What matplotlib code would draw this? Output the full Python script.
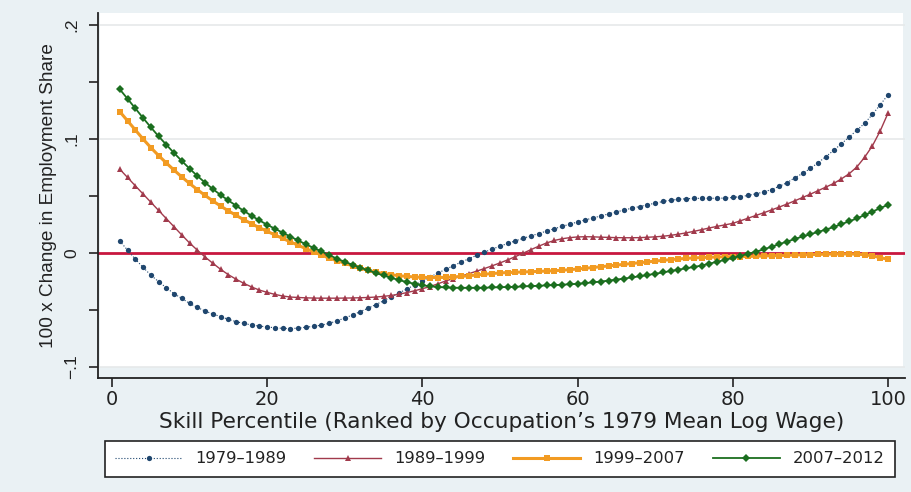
import matplotlib
matplotlib.use("Agg")
import matplotlib.pyplot as plt
from matplotlib.patches import Rectangle

# skill percentile (1..100)
percentile = list(range(1, 101))

# 100 x change in employment share
chg_1979_1989 = [
    .0105, .0026, -.0053, -.0126, -.0193, -.0251, -.0304, -.0357, -.0398, -.0442,
    -.0477, -.0509, -.0535, -.0558, -.0582, -.0602, -.0617, -.0632, -.0640, -.0649,
    -.0655, -.0661, -.0662, -.0659, -.0650, -.0643, -.0632, -.0617, -.0595, -.0570,
    -.0543, -.0514, -.0484, -.0452, -.0419, -.0385, -.0350, -.0315, -.0280, -.0245,
    -.0210, -.0176, -.0143, -.0111, -.0080, -.0050, -.0020, .0008, .0034, .0060,
    .0084, .0107, .0129, .0150, .0171, .0192, .0213, .0233, .0253, .0272,
    .0290, .0308, .0325, .0343, .0360, .0377, .0393, .0408, .0423, .0437,
    .0452, .0463, .0471, .0476, .0479, .0480, .0480, .0480, .0482, .0487,
    .0495, .0505, .0520, .0535, .0557, .0585, .0617, .0660, .0698, .0742,
    .0792, .0845, .0900, .0958, .1017, .1077, .1138, .1215, .1300, .1386,
]
chg_1989_1999 = [
    .0735, .0663, .0590, .0518, .0446, .0374, .0302, .0230, .0158, .0088,
    .0025, -.0035, -.0090, -.0143, -.0190, -.0230, -.0266, -.0298, -.0325, -.0345,
    -.0363, -.0377, -.0386, -.0390, -.0393, -.0395, -.0396, -.0396, -.0396, -.0395,
    -.0394, -.0392, -.0390, -.0386, -.0380, -.0372, -.0361, -.0347, -.0331, -.0313,
    -.0294, -.0270, -.0245, -.0224, -.0203, -.0181, -.0159, -.0136, -.0112, -.0087,
    -.0060, -.0031, -.0001, .0030, .0060, .0088, .0110, .0125, .0135, .0141,
    .0143, .0142, .0139, .0137, .0135, .0134, .0134, .0135, .0138, .0142,
    .0147, .0155, .0165, .0177, .0190, .0205, .0220, .0234, .0247, .0260,
    .0283, .0306, .0330, .0353, .0378, .0403, .0430, .0458, .0487, .0516,
    .0547, .0578, .0610, .0650, .0695, .0755, .0840, .0940, .1070, .1225,
]
chg_1999_2007 = [
    .1240, .1160, .1080, .1000, .0925, .0855, .0790, .0727, .0667, .0610,
    .0556, .0505, .0457, .0412, .0370, .0330, .0292, .0256, .0222, .0190,
    .0159, .0128, .0098, .0068, .0038, .0010, -.0018, -.0045, -.0068, -.0090,
    -.0112, -.0133, -.0152, -.0167, -.0180, -.0190, -.0199, -.0205, -.0210, -.0213,
    -.0215, -.0215, -.0213, -.0210, -.0205, -.0199, -.0193, -.0186, -.0180, -.0175,
    -.0171, -.0169, -.0166, -.0164, -.0161, -.0158, -.0155, -.0151, -.0146, -.0140,
    -.0134, -.0127, -.0120, -.0113, -.0106, -.0099, -.0092, -.0085, -.0078, -.0071,
    -.0064, -.0058, -.0052, -.0047, -.0043, -.0040, -.0037, -.0035, -.0033, -.0032,
    -.0031, -.0030, -.0028, -.0026, -.0024, -.0022, -.0020, -.0018, -.0016, -.0014,
    -.0012, -.0010, -.0009, -.0008, -.0008, -.0010, -.0015, -.0025, -.0040, -.0055,
]
chg_2007_2012 = [
    .1436, .1353, .1269, .1185, .1103, .1024, .0950, .0877, .0807, .0740,
    .0676, .0617, .0561, .0509, .0461, .0415, .0369, .0326, .0286, .0248,
    .0213, .0178, .0144, .0110, .0076, .0045, .0014, -.0018, -.0050, -.0077,
    -.0103, -.0128, -.0152, -.0175, -.0197, -.0218, -.0237, -.0255, -.0270, -.0283,
    -.0292, -.0298, -.0302, -.0304, -.0305, -.0305, -.0305, -.0304, -.0302, -.0300,
    -.0298, -.0296, -.0293, -.0290, -.0287, -.0284, -.0281, -.0278, -.0274, -.0270,
    -.0264, -.0257, -.0250, -.0242, -.0233, -.0224, -.0214, -.0204, -.0193, -.0182,
    -.0170, -.0158, -.0146, -.0134, -.0122, -.0110, -.0093, -.0077, -.0060, -.0043,
    -.0025, -.0007, .0012, .0032, .0055, .0078, .0100, .0123, .0145, .0165,
    .0185, .0205, .0228, .0253, .0278, .0303, .0333, .0363, .0393, .0423,
]

period_labels = ["1979\u20131989", "1989\u20131999", "1999\u20132007", "2007\u20132012"]
x_ticks = [0, 20, 40, 60, 80, 100]
y_ticks = [-.1, -.05, 0, .05, .1, .15, .2]
y_ticklabels = ["\u2212.1", "", "0", "", ".1", "", ".2"]

bg = "#eaf1f4"
fig = plt.figure(figsize=(9.11, 4.92), dpi=100, facecolor=bg)
ax = fig.add_axes([0.1076, 0.2317, 0.8858, 0.7419])
ax.set_facecolor(bg)
ax.add_patch(Rectangle((0.002, 0.03), 0.996, 0.97, transform=ax.transAxes,
                       facecolor="white", edgecolor="none", zorder=0))

for yv in [-.1, .1, .2]:
    ax.axhline(yv, color="#e6e9ea", lw=1.2, zorder=0.5)
ax.axhline(0, color="#c8173f", lw=2, zorder=1)

ax.plot(percentile, chg_1979_1989, color="#1f466e", ls=":", lw=0.8,
        marker="o", ms=3.8, mew=0, label=period_labels[0], zorder=2)
ax.plot(percentile, chg_1989_1999, color="#a13a4c", ls="-", lw=1.0,
        marker="^", ms=4.2, mew=0, label=period_labels[1], zorder=3)
ax.plot(percentile, chg_1999_2007, color="#f29b22", ls="-", lw=2.2,
        marker="s", ms=4.0, mew=0, label=period_labels[2], zorder=4)
ax.plot(percentile, chg_2007_2012, color="#1b6e1f", ls="-", lw=1.3,
        marker="D", ms=3.7, mew=0, label=period_labels[3], zorder=5)

ax.set_xlim(-1.8, 102.2)
ax.set_ylim(-0.1096, 0.2105)

for s in ["top", "right"]:
    ax.spines[s].set_visible(False)
for s in ["left", "bottom"]:
    ax.spines[s].set_linewidth(1.3)
    ax.spines[s].set_color("#222222")

ax.set_xticks(x_ticks)
ax.set_xticklabels([str(t) for t in x_ticks], fontsize=14, color="#222222")
ax.set_yticks(y_ticks)
ax.set_yticklabels(y_ticklabels, rotation=90, va="center",
                   fontsize=12.5, family="Liberation Sans", color="#222222")
ax.tick_params(axis="both", direction="out", length=6.5, width=1.2, color="#222222")
ax.tick_params(axis="y", pad=7)
ax.tick_params(axis="x", pad=2)

ax.set_xlabel("Skill Percentile (Ranked by Occupation\u2019s 1979 Mean Log Wage)",
              fontsize=15.6, color="#222222", labelpad=2)
ax.set_ylabel("100 x Change in Employment Share", fontsize=13.7,
              family="Liberation Sans", color="#222222", labelpad=5)

leg = fig.legend(loc="center", bbox_to_anchor=(0.1153, 0.0305, 0.867, 0.0732),
                 mode="expand", ncol=4, fontsize=11.8, handlelength=4.1,
                 numpoints=1, frameon=True, fancybox=False, borderaxespad=0,
                 borderpad=0.62)
leg.get_frame().set_edgecolor("#222222")
leg.get_frame().set_linewidth(1.2)
leg.get_frame().set_facecolor("white")
leg.get_frame().set_alpha(1)
for t in leg.get_texts():
    t.set_color("#222222")

fig.savefig("out.png", dpi=100, facecolor=bg)
